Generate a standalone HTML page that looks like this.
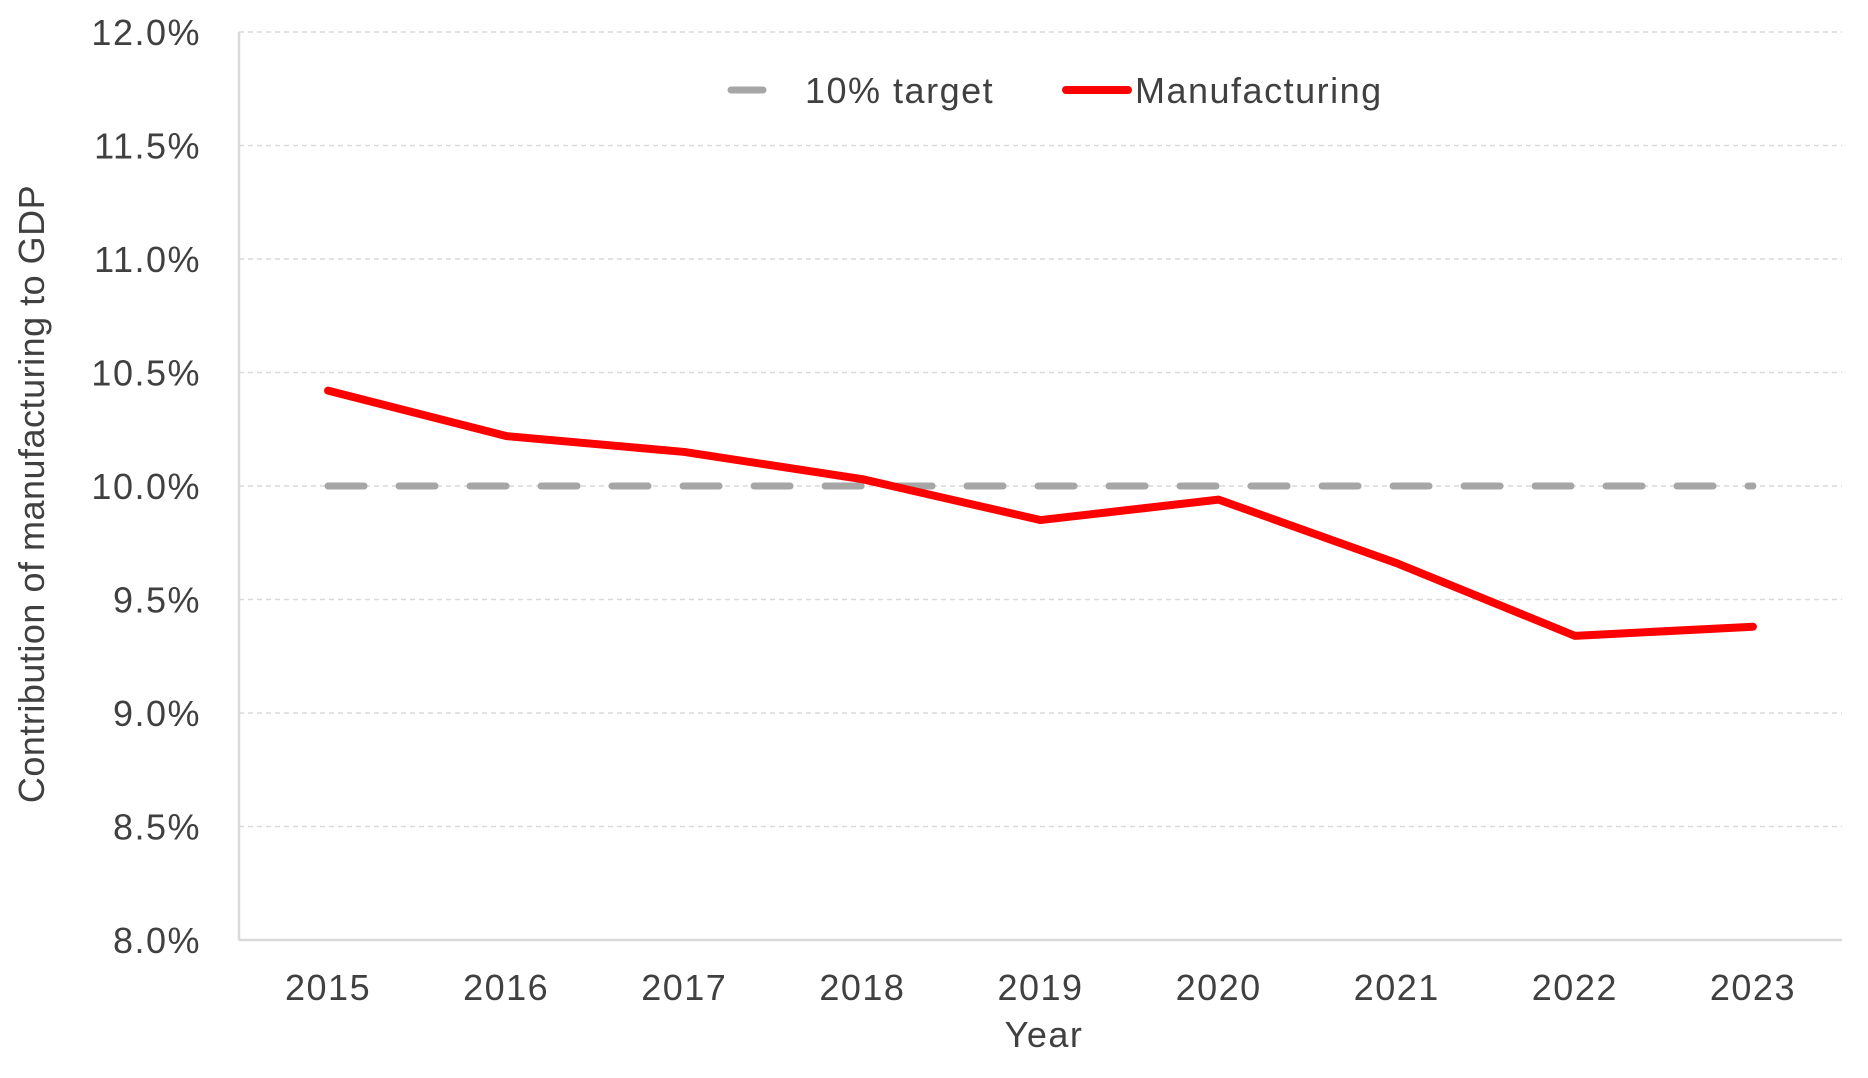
<!DOCTYPE html>
<html><head><meta charset="utf-8"><style>
body{margin:0;background:#fff;}
svg{display:block;font-family:"Liberation Sans",Arial,sans-serif;}
</style></head><body>
<svg id="chart" width="1868" height="1078"></svg>
<script>
const years=["2015","2016","2017","2018","2019","2020","2021","2022","2023"];
const manufacturing=[10.42,10.22,10.15,10.03,9.85,9.94,9.66,9.34,9.38];
const target=[10,10,10,10,10,10,10,10,10];
const yTicks=[8.0,8.5,9.0,9.5,10.0,10.5,11.0,11.5,12.0];
const NS="http://www.w3.org/2000/svg";
const svg=document.getElementById('chart');
const L=239,R=1842,T=32,B=940,yMin=8,yMax=12;
const FS=36, LS='1.5px';
const xs=i=>L+(R-L)/years.length*(i+0.5);
const ys=v=>B-(v-yMin)/(yMax-yMin)*(B-T);
function mk(tag,a){const e=document.createElementNS(NS,tag);for(const k in a)e.setAttribute(k,a[k]);svg.appendChild(e);return e;}
yTicks.forEach(t=>{
  if(t>yMin){const g=mk('line',{x1:L,x2:R,y1:ys(t),y2:ys(t),stroke:'#d9d9d9','stroke-width':1.5,'stroke-dasharray':'5 4'});
  
  }
  const tx=mk('text',{x:201,y:ys(t)+13,'text-anchor':'end','font-size':FS,'letter-spacing':LS,fill:'#404040'});
  tx.textContent=t.toFixed(1)+'%';
  
  
});
const ax=mk('line',{x1:L,x2:L,y1:T,y2:B,stroke:'#d9d9d9','stroke-width':2.5});


const bx=mk('line',{x1:L,x2:R,y1:B,y2:B,stroke:'#d9d9d9','stroke-width':2.5});


years.forEach((y,i)=>{
  const tx=mk('text',{x:xs(i),y:1000,'text-anchor':'middle','font-size':FS,'letter-spacing':LS,fill:'#404040'});
  tx.textContent=y;
  
  
});
const xt=mk('text',{x:1044,y:1047,'text-anchor':'middle','font-size':FS,'letter-spacing':LS,fill:'#404040'});
xt.textContent='Year';


const yt=mk('text',{x:0,y:0,'text-anchor':'middle','font-size':FS,'letter-spacing':'0.5px',fill:'#404040',transform:'translate(44,494) rotate(-90)'});
yt.textContent='Contribution of manufacturing to GDP';


const tl=mk('polyline',{points:target.map((v,i)=>xs(i)+','+ys(v)).join(' '),fill:'none',stroke:'#a6a6a6','stroke-width':7,'stroke-dasharray':'36 35','stroke-linecap':'round'});


const ml=mk('polyline',{points:manufacturing.map((v,i)=>xs(i)+','+ys(v)).join(' '),fill:'none',stroke:'#ff0000','stroke-width':8,'stroke-linecap':'round','stroke-linejoin':'round'});


const l1=mk('line',{x1:731,x2:763,y1:90,y2:90,stroke:'#a6a6a6','stroke-width':7,'stroke-linecap':'round'});


const lt1=mk('text',{x:805,y:103,'font-size':FS,'letter-spacing':LS,fill:'#404040'});
lt1.textContent='10% target';


const l2=mk('line',{x1:1066,x2:1128,y1:90,y2:90,stroke:'#ff0000','stroke-width':8,'stroke-linecap':'round'});


const lt2=mk('text',{x:1135,y:103,'font-size':FS,'letter-spacing':LS,fill:'#404040'});
lt2.textContent='Manufacturing';


</script>
</body></html>
